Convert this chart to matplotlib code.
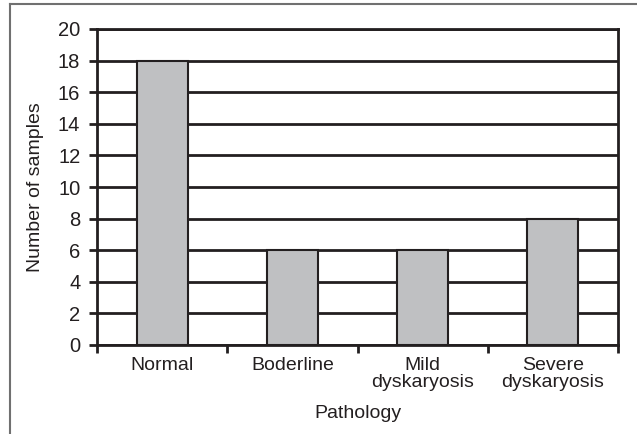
import matplotlib
matplotlib.use("Agg")
import matplotlib.pyplot as plt
from matplotlib.lines import Line2D
import numpy as np

categories = ["Normal", "Boderline", "Mild\ndyskaryosis", "Severe\ndyskaryosis"]
values = [18, 6, 6, 8]
yticks = [0, 2, 4, 6, 8, 10, 12, 14, 16, 18, 20]

plt.rcParams['font.family'] = ['Liberation Sans', 'DejaVu Sans']
ink = "#231f20"

W, H = 637, 434
fig = plt.figure(figsize=(W/100, H/100), dpi=100)
ax = fig.add_axes([97/W, 1-345/H, (618-97)/W, (345-29)/H])

x = np.arange(len(categories))
ax.bar(x, values, width=0.39, color="#bfc0c2", edgecolor=ink, linewidth=1.5, zorder=3)

ax.set_xlim(-0.5, len(categories)-0.5)
ax.set_ylim(0, 20)
ax.set_yticks(yticks)
ax.yaxis.grid(True, color=ink, linewidth=2, zorder=1)
ax.set_axisbelow(True)

ax.set_xticks(np.arange(len(categories)+1) - 0.5)
ax.set_xticklabels([""]*(len(categories)+1))
ax.set_xticks(x, minor=True)
ax.set_xticklabels(categories, minor=True, fontsize=14, color=ink, linespacing=0.95)
ax.tick_params(axis='x', which='minor', length=0, pad=9)
ax.tick_params(axis='x', which='major', length=6, width=2, color=ink, direction='out')
ax.tick_params(axis='y', length=6, width=2, color=ink, labelsize=14.5, labelcolor=ink, pad=6)

for s in ax.spines.values():
    s.set_color(ink)
    s.set_linewidth(2)

ax.set_xlabel("Pathology", fontsize=14, color=ink, labelpad=10)
ax.set_ylabel("Number of samples", fontsize=14, color=ink, labelpad=10)

# outer frame (left and top edges visible)
fig.add_artist(Line2D([10/W, 10/W], [0, 1-4/H], transform=fig.transFigure, color="#707070", linewidth=1.5))
fig.add_artist(Line2D([10/W, 1], [1-4/H, 1-4/H], transform=fig.transFigure, color="#707070", linewidth=1.5))

fig.savefig("out.png", dpi=100)
